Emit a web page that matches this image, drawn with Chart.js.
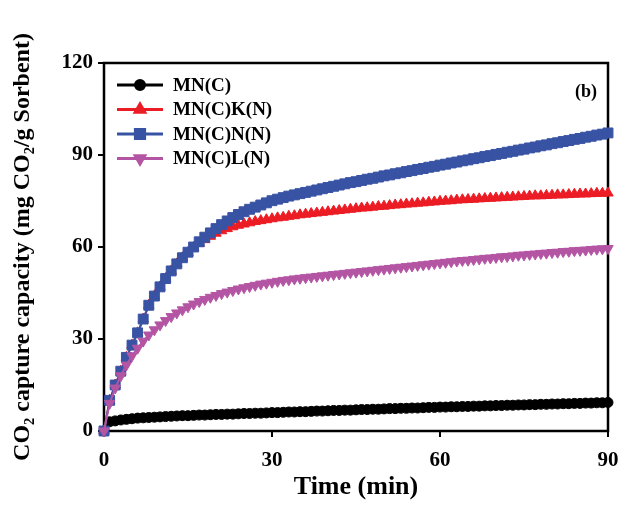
<!DOCTYPE html>
<html>
<head>
<meta charset="utf-8">
<script src="https://cdn.jsdelivr.net/npm/chart.js@4.4.1/dist/chart.umd.min.js"></script>
<style>
  html, body { margin: 0; padding: 0; background: #fff; }
  #wrap { width: 619px; height: 509px; }
</style>
</head>
<body>
<div id="wrap"><canvas id="main" width="619" height="509"></canvas></div>
<script>
// time (min), one reading per minute
const timeMin = [0,1,2,3,4,5,6,7,8,9,10,11,12,13,14,15,16,17,18,19,20,21,22,23,24,25,26,27,28,29,30,
  31,32,33,34,35,36,37,38,39,40,41,42,43,44,45,46,47,48,49,50,51,52,53,54,55,56,57,58,59,60,
  61,62,63,64,65,66,67,68,69,70,71,72,73,74,75,76,77,78,79,80,81,82,83,84,85,86,87,88,89,90];

const mnC = [0,3.0,3.3,3.6,3.8,4.0,4.2,4.3,4.4,4.5,4.6,4.7,4.8,4.9,5.0,5.0,5.1,5.2,5.2,5.3,5.4,5.4,5.5,5.5,5.6,5.7,5.7,5.8,5.8,5.9,6.0,
  6.0,6.1,6.2,6.2,6.3,6.3,6.4,6.5,6.5,6.6,6.7,6.7,6.8,6.8,6.9,7.0,7.0,7.1,7.1,7.2,7.3,7.3,7.4,7.4,7.5,7.5,7.6,7.7,7.7,7.8,
  7.8,7.9,7.9,8.0,8.0,8.1,8.1,8.2,8.2,8.3,8.3,8.4,8.4,8.5,8.5,8.6,8.6,8.7,8.7,8.8,8.8,8.9,8.9,9.0,9.0,9.1,9.1,9.2,9.2,9.3];

const mnCKN = [0,10,15,19.5,24,28,32,36.5,41,44,47,49.7,52.2,54.5,56.5,58.2,59.8,61.2,62.4,63.5,64.5,65.3,66.0,66.6,67.1,67.5,67.9,68.3,68.6,68.9,69.2,
  69.5,69.7,70.0,70.2,70.5,70.7,70.9,71.1,71.3,71.5,71.7,71.9,72.1,72.3,72.5,72.7,72.8,73.0,73.2,73.3,73.5,73.7,73.8,74.0,74.1,74.3,74.4,74.6,74.7,74.9,
  75.0,75.1,75.3,75.4,75.5,75.6,75.7,75.8,75.9,76.0,76.1,76.2,76.3,76.4,76.5,76.6,76.7,76.7,76.8,76.9,77.0,77.0,77.1,77.2,77.3,77.3,77.4,77.5,77.5,77.6];

const mnCNN = [0,10,15,19.5,24,28,32,36.5,41,44,47,49.7,52.2,54.5,56.5,58.3,60.0,61.7,63.2,64.6,66.0,67.3,68.5,69.6,70.6,71.5,72.3,73.0,73.7,74.4,75.1,
  75.6,76.1,76.6,77.0,77.4,77.8,78.2,78.6,79.0,79.4,79.8,80.2,80.6,81.0,81.3,81.7,82.1,82.4,82.8,83.2,83.5,83.9,84.2,84.6,84.9,85.3,85.6,86.0,86.3,86.7,
  87.0,87.4,87.7,88.1,88.4,88.8,89.1,89.5,89.8,90.2,90.5,90.9,91.2,91.6,91.9,92.3,92.6,93.0,93.3,93.7,94.0,94.4,94.7,95.1,95.4,95.8,96.1,96.5,96.8,97.2];

const mnCLN = [0,9,14,18,21.5,24.5,27,29.3,31.3,33,34.6,36,37.3,38.5,39.5,40.5,41.4,42.2,42.9,43.6,44.2,44.8,45.3,45.8,46.3,46.7,47.1,47.5,47.9,48.2,48.5,
  48.8,49.1,49.3,49.6,49.8,50.0,50.2,50.4,50.6,50.8,51.0,51.2,51.4,51.6,51.8,52.0,52.2,52.4,52.6,52.8,53.0,53.2,53.4,53.6,53.8,54.0,54.2,54.4,54.6,54.8,
  55.0,55.2,55.4,55.6,55.7,55.9,56.1,56.3,56.4,56.6,56.8,56.9,57.1,57.3,57.4,57.6,57.7,57.9,58.0,58.2,58.3,58.5,58.6,58.8,58.9,59.0,59.2,59.3,59.4,59.5];

const seriesNames = ['MN(C)', 'MN(C)K(N)', 'MN(C)N(N)', 'MN(C)L(N)'];
const xTicks = [0, 30, 60, 90];
const yTicks = [0, 30, 60, 90, 120];

const serif = "'Liberation Serif', 'Times New Roman', serif";

const toPts = (ys) => ys.map((y, i) => ({x: timeMin[i], y: y}));

const mkSet = (label, ys, color, style, radius, rot, order) => ({
  label: label,
  data: toPts(ys),
  borderColor: color,
  backgroundColor: color,
  pointBackgroundColor: color,
  pointBorderColor: color,
  pointBorderWidth: 1,
  pointStyle: style,
  pointRadius: radius,
  pointRotation: rot,
  borderWidth: 2,
  tension: 0,
  clip: false,
  order: order
});

const sets = [
  mkSet(seriesNames[0], mnC, '#000000', 'circle', 5, 0, 3),
  mkSet(seriesNames[1], mnCKN, '#ec1c24', 'triangle', 6, 0, 2),
  mkSet(seriesNames[2], mnCNN, '#3953a4', 'rect', 7, 0, 1),
  mkSet(seriesNames[3], mnCLN, '#b455a4', 'triangle', 6, 180, 0)
];

// frame round the plot, legend box inside, and the (b) tag
const framePlugin = {
  id: 'frame',
  beforeDatasetsDraw(chart) {
    const a = chart.chartArea, ctx = chart.ctx;
    ctx.save();
    ctx.strokeStyle = '#000';
    ctx.lineWidth = 2.5;
    ctx.strokeRect(a.left, a.top, a.right - a.left, a.bottom - a.top);
    ctx.restore();
  },
  afterDraw(chart) {
    const ctx = chart.ctx;
    ctx.save();
    const rowY = [85, 109.5, 134, 158.5];
    sets.forEach((ds, i) => {
      const y = rowY[i];
      ctx.strokeStyle = ds.borderColor;
      ctx.lineWidth = 3;
      ctx.beginPath();
      ctx.moveTo(117, y);
      ctx.lineTo(163, y);
      ctx.stroke();
      ctx.fillStyle = ds.backgroundColor;
      Chart.helpers.drawPoint(ctx, {pointStyle: ds.pointStyle, radius: ds.pointRadius - 0.5, rotation: ds.pointRotation, borderWidth: 1}, 140, y);
      ctx.fillStyle = '#000';
      ctx.font = 'bold 19px ' + serif;
      ctx.textBaseline = 'middle';
      ctx.textAlign = 'left';
      ctx.fillText(ds.label, 173, y + 1);
    });
    ctx.font = 'bold 18px ' + serif;
    ctx.textAlign = 'right';
    ctx.fillText('(b)', 597, 92);
    ctx.restore();
  }
};

new Chart(document.getElementById('main'), {
  type: 'line',
  data: { datasets: sets },
  options: {
    responsive: false,
    animation: false,
    layout: { padding: { top: 63, right: 11, left: 0, bottom: 0 } },
    plugins: { legend: { display: false }, tooltip: { enabled: false } },
    scales: {
      x: {
        type: 'linear',
        min: 0, max: 90,
        afterBuildTicks: (s) => { s.ticks = xTicks.map(v => ({value: v})); },
        afterFit: (s) => { s.height = 78; s.paddingLeft = 0; s.paddingRight = 0; },
        border: { display: false },
        grid: { drawOnChartArea: false, drawTicks: true, tickLength: 6, color: '#000', lineWidth: 2 },
        ticks: { color: '#000', padding: 11, font: { family: serif, size: 21, weight: 'bold' } },
        title: { display: true, text: 'Time (min)', color: '#000', padding: { top: 0, bottom: 6 }, font: { family: serif, size: 26, weight: 'bold' } }
      },
      y: {
        min: 0, max: 120,
        afterBuildTicks: (s) => { s.ticks = yTicks.map(v => ({value: v})); },
        afterFit: (s) => { s.width = 104; s.paddingTop = 0; s.paddingBottom = 0; },
        border: { display: false },
        grid: { drawOnChartArea: false, drawTicks: true, tickLength: 6, color: '#000', lineWidth: 2 },
        ticks: { color: '#000', padding: 5, font: { family: serif, size: 21, weight: 'bold' } },
        title: { display: true, text: 'CO\u2082 capture capacity (mg CO\u2082/g Sorbent)', color: '#000', padding: { top: 8, bottom: 0 }, font: { family: serif, size: 24, weight: 'bold' } }
      }
    }
  },
  plugins: [framePlugin]
});
</script>
</body>
</html>
